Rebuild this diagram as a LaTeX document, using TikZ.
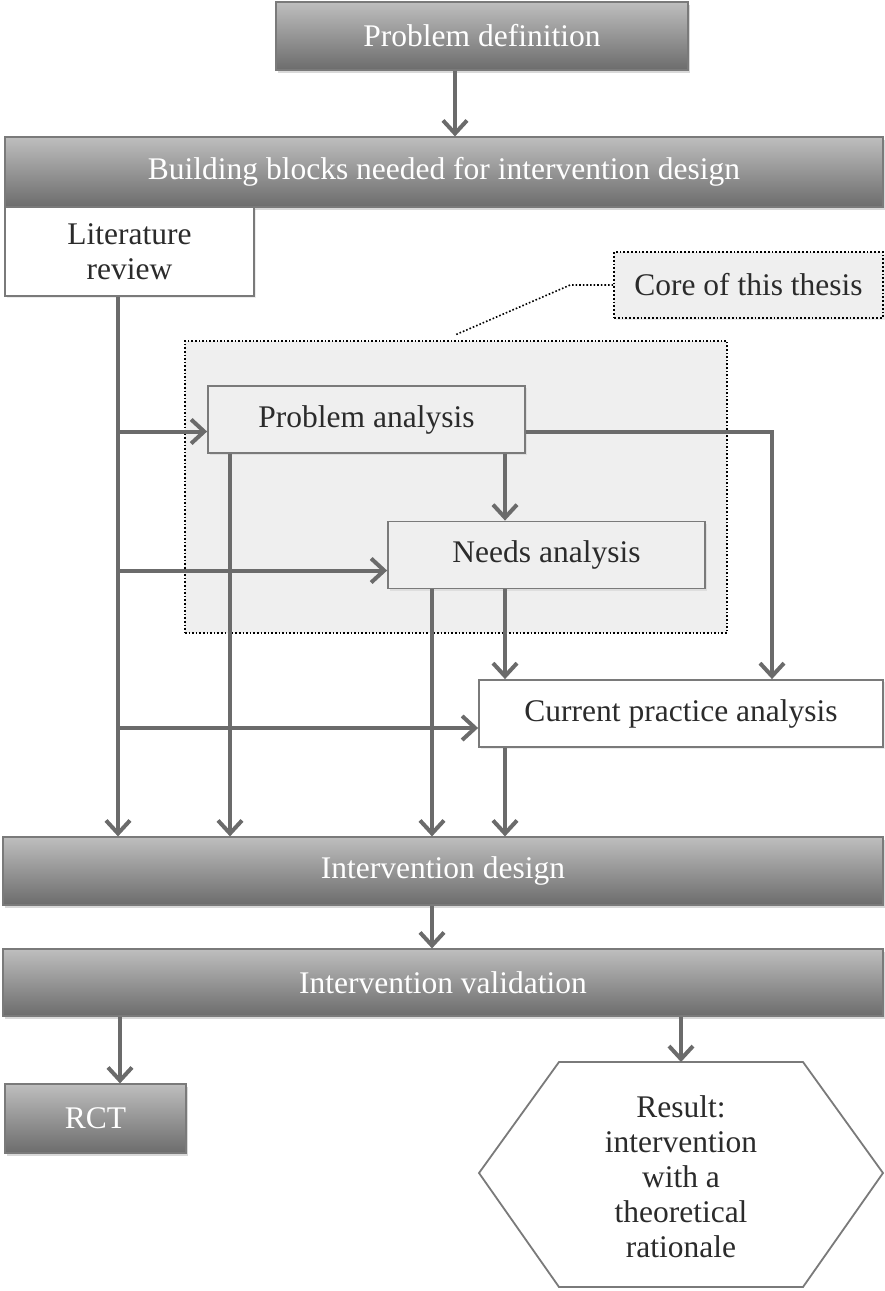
\documentclass[tikz,border=0pt]{standalone}
\usepackage{fontspec}
\setmainfont{Liberation Serif}
\usetikzlibrary{arrows.meta, positioning, shadows}

\definecolor{boxtop}{HTML}{BEBEBE}
\definecolor{boxbot}{HTML}{6C6C6C}
\definecolor{boxline}{HTML}{7A7A7A}
\definecolor{paleback}{HTML}{EFEFEF}
\definecolor{flowgrey}{HTML}{6B6B6B}
\definecolor{inkgrey}{HTML}{2B2B2B}

\tikzset{
  darkbox/.style={draw=boxline, line width=1.2pt, top color=boxtop, bottom color=boxbot,
    text=white, inner sep=0pt, font=\fontsize{31.5}{35}\selectfont,
    drop shadow={opacity=0.3, shadow xshift=2pt, shadow yshift=-3pt}},
  palebox/.style={draw=boxline, line width=1.8pt, fill=paleback, text=inkgrey,
    inner sep=0pt, align=center, font=\fontsize{31.5}{35}\selectfont,
    drop shadow={opacity=0.15, shadow xshift=1.5pt, shadow yshift=-2pt}},
  whitebox/.style={palebox, fill=white},
  region/.style={draw=black, line width=1.6pt, dotted, fill=paleback, inner sep=0pt},
  callout/.style={draw=black, line width=1.6pt, dotted},
  flow/.style={draw=flowgrey, line width=4pt, -{Straight Barb[length=13pt, width=24pt]}}
}

\begin{document}
\begin{tikzpicture}[x=1pt, y=-1pt]
    \useasboundingbox (0,0) rectangle (885,1291);
    \node (def) [darkbox, minimum width=412pt, minimum height=68pt] at (482,36) {Problem definition};
    \node (blocks) [darkbox, minimum width=878pt, minimum height=70pt] at (444,172) {Building blocks needed for intervention design};
    \node (lit) [whitebox, minimum width=249pt, minimum height=89pt] at (129.5,251.5) {Literature\\review};
    % core of the thesis
    \node (core) [region, minimum width=542pt, minimum height=292pt] at (456,487) {};
    \node (thesis) [palebox, dotted, draw=black, line width=1.6pt, minimum width=269pt, minimum height=66pt] at (748.5,285) {Core of this thesis};
    \coordinate (tip) at (455,335);
    \draw [callout] (thesis.west) -- ++(-43,0) -- (tip);
    \node (pa) [palebox, minimum width=317pt, minimum height=67pt] at (366.5,419.5) {Problem analysis};
    \node (na) [palebox, minimum width=317pt, minimum height=67pt] at (546.5,555) {Needs analysis};
    \node (cpa) [whitebox, minimum width=404pt, minimum height=67pt] at (681,713.5) {Current practice analysis};
    \node (design) [darkbox, minimum width=880pt, minimum height=68pt] at (443,871) {Intervention design};
    \node (valid) [darkbox, minimum width=880pt, minimum height=67pt] at (443,982.5) {Intervention validation};
    \node (rct) [darkbox, minimum width=181pt, minimum height=69pt] at (95.5,1118.5) {RCT};
    % result hexagon
    \draw [draw=boxline, line width=1.8pt, fill=white]
      (559,1062) -- (803,1062) -- (883,1173) -- (803,1287) -- (559,1287) -- (479,1173) -- cycle;
    \node (res) [text=inkgrey, align=center, font=\fontsize{31.5}{35}\selectfont] at (681,1177)
      {Result:\\intervention\\with a\\theoretical\\rationale};
    \coordinate (restop) at (681,1062);
    \coordinate (lt) at ([xshift=-11.5pt]lit.south);

    \draw [flow] ([xshift=-27pt]def.south) -- ([xshift=-27pt]def.south |- blocks.north);
    \draw [flow] (lt) -- (lt |- design.north);
    \draw [flow] ([yshift=-12pt]pa.west -| lt) -- ([yshift=-12pt]pa.west);
    \draw [flow] ([yshift=-15.5pt]na.west -| lt) -- ([yshift=-15.5pt]na.west);
    \draw [flow] ([yshift=-14.5pt]cpa.west -| lt) -- ([yshift=-14.5pt]cpa.west);
    \draw [flow] ([xshift=-136.5pt]pa.south) -- ([xshift=-136.5pt]pa.south |- design.north);
    \draw [flow] ([xshift=138.5pt]pa.south) -- ([xshift=138.5pt]pa.south |- na.north);
    \draw [flow] ([yshift=-12pt]pa.east) -| ([xshift=91pt]cpa.north);
    \draw [flow] ([xshift=-114.5pt]na.south) -- ([xshift=-114.5pt]na.south |- design.north);
    \draw [flow] ([xshift=-41.5pt]na.south) -- ([xshift=-41.5pt]na.south |- cpa.north);
    \draw [flow] ([xshift=-176pt]cpa.south) -- ([xshift=-176pt]cpa.south |- design.north);
    \draw [flow] ([xshift=-11pt]design.south) -- ([xshift=-11pt]design.south |- valid.north);
    \draw [flow] ([xshift=24.5pt]rct.north |- valid.south) -- ([xshift=24.5pt]rct.north);
    \draw [flow] (restop |- valid.south) -- (restop);
\end{tikzpicture}
\end{document}
